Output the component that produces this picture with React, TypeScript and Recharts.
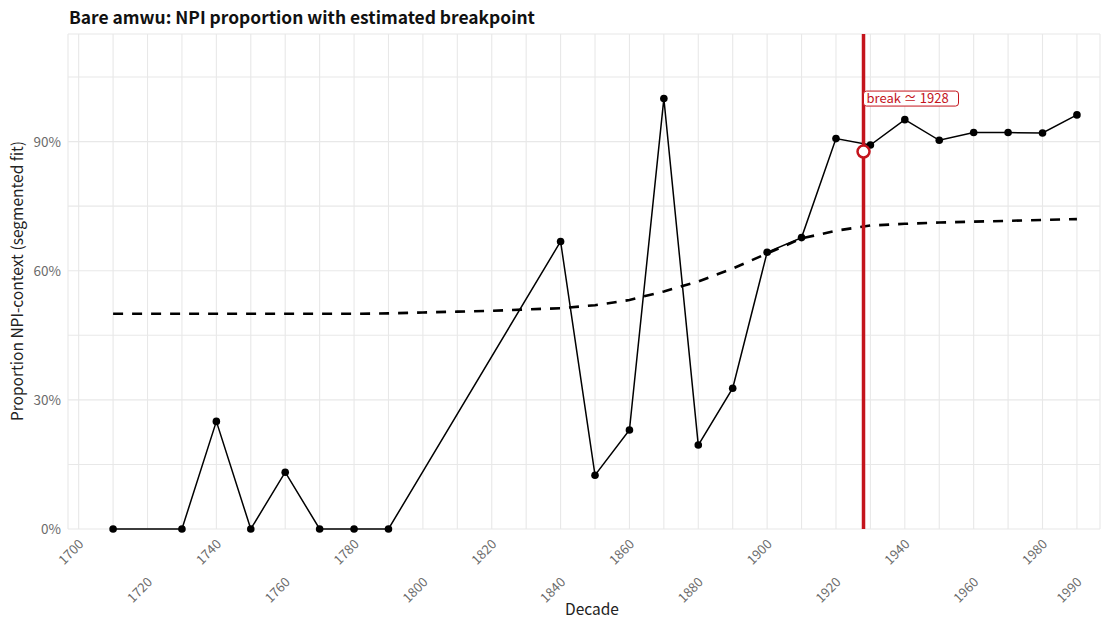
import React from 'react';
import {
	ComposedChart,
	Line,
	XAxis,
	YAxis,
	CartesianGrid,
	ReferenceLine,
	ReferenceDot,
} from 'recharts';

// observed decades (grid) and the labelled ones on the x axis
const decades = [
	1710, 1720, 1730, 1740, 1750, 1760, 1770, 1780, 1790, 1800, 1810, 1820, 1830, 1840, 1850,
	1860, 1870, 1880, 1890, 1900, 1910, 1920, 1930, 1940, 1950, 1960, 1970, 1980, 1990,
];
const gridDecades = [
	1700, 1710, 1720, 1730, 1740, 1750, 1760, 1770, 1780, 1790, 1800, 1810, 1820, 1830, 1840,
	1850, 1860, 1870, 1880, 1890, 1900, 1910, 1920, 1930, 1940, 1950, 1960, 1970, 1980, 1990,
];
const xLabels = [
	1700, 1720, 1740, 1760, 1780, 1800, 1820, 1840, 1860, 1880, 1900, 1920, 1940, 1960, 1980, 1990,
];

// NPI-context share per decade (null = no tokens)
const npiShare = [
	0, null, 0, 0.25, 0, 0.132, 0, 0, 0, null, null, null, null, 0.668, 0.125, 0.23, 1.0, 0.195,
	0.327, 0.643, 0.677, 0.907, 0.892, 0.951, 0.903, 0.921, 0.921, 0.92, 0.962,
];
// segmented fit
const fitShare = [
	0.5, 0.5, 0.5, 0.5, 0.5, 0.5, 0.5, 0.5, 0.501, 0.503, 0.505, 0.507, 0.51, 0.513, 0.52, 0.532,
	0.552, 0.575, 0.605, 0.64, 0.675, 0.693, 0.705, 0.709, 0.712, 0.714, 0.716, 0.718, 0.72,
];

const yTicks = [0, 0.15, 0.3, 0.45, 0.6, 0.75, 0.9, 1.05];
const yLabels = [0, 0.3, 0.6, 0.9];

const breakYear = 1928;
const breakShare = 0.877;
const breakLabelShare = 1.0;

const RED = '#c4141c';
const FONT = '"Noto Sans CJK KR", "Noto Sans", sans-serif';

const data = decades.map((d, i) => ({ decade: d, npi: npiShare[i], fit: fitShare[i] }));

const XTick = (props: any) => {
	const { x, y, payload } = props;
	const idx = xLabels.indexOf(payload.value);
	if (idx < 0) return null;
	const px = x + 5.7;
	const py = y + (idx % 2 === 0 ? 16 : 54);
	return (
		<text
			x={px}
			y={py}
			transform={`rotate(-45, ${px}, ${py})`}
			textAnchor='end'
			fontSize={13}
			fill='#6b6b6b'
			fontFamily={FONT}
		>
			{payload.value}
		</text>
	);
};

const YTick = (props: any) => {
	const { x, y, payload } = props;
	if (!yLabels.some(v => Math.abs(v - payload.value) < 1e-9)) return null;
	return (
		<text x={x} y={y + 5} textAnchor='end' fontSize={13.5} fill='#6b6b6b' fontFamily={FONT}>
			{`${Math.round(payload.value * 100)}%`}
		</text>
	);
};

const BreakLabel = (props: any) => {
	const { cx, cy } = props;
	return (
		<g>
			<rect
				x={cx}
				y={cy - 7.5}
				width={95}
				height={15}
				rx={3}
				fill='#fff'
				stroke={RED}
				strokeWidth={1}
			/>
			<text x={cx + 3} y={cy + 4.5} fontSize={13} fill={RED} fontFamily={FONT}>
				{`break ≃ ${breakYear}`}
			</text>
		</g>
	);
};

export default function App() {
	return (
		<div style={{ position: 'absolute', left: 0, top: 0, width: 1107, height: 621, background: '#fff' }}>
			<ComposedChart
				width={1107}
				height={621}
				data={data}
				margin={{ top: 34, right: 7, bottom: 12, left: 8 }}
			>
				<text x={69} y={24} fontSize={17.4} fontWeight={700} fill='#111' fontFamily={FONT}>
					Bare amwu: NPI proportion with estimated breakpoint
				</text>
				<text x={592} y={615} textAnchor='middle' fontSize={15.5} fill='#222' fontFamily={FONT}>
					Decade
				</text>
				<text
					x={23}
					y={281}
					transform='rotate(-90, 23, 281)'
					textAnchor='middle'
					fontSize={15.5}
					fill='#222'
					fontFamily={FONT}
				>
					Proportion NPI-context (segmented fit)
				</text>
				<CartesianGrid stroke='#e8e8e8' strokeWidth={1.1} />
				<XAxis
					dataKey='decade'
					type='number'
					domain={[1696.9, 1996.7]}
					ticks={gridDecades}
					interval={0}
					axisLine={false}
					tickLine={false}
					tickSize={0}
					tickMargin={0}
					height={80}
					tick={<XTick />}
				/>
				<YAxis
					type='number'
					domain={[0, 1.15]}
					ticks={yTicks}
					interval={0}
					axisLine={false}
					tickLine={false}
					tickSize={0}
					tickMargin={7}
					width={60}
					tick={<YTick />}
				/>
				<Line
					dataKey='fit'
					stroke='#000'
					strokeWidth={2.6}
					strokeDasharray='10 9'
					dot={false}
					isAnimationActive={false}
				/>
				<Line
					dataKey='npi'
					stroke='#000'
					strokeWidth={1.5}
					connectNulls
					dot={{ r: 3.8, fill: '#000', stroke: 'none' }}
					activeDot={false}
					isAnimationActive={false}
				/>
				<ReferenceLine x={breakYear} stroke={RED} strokeWidth={3.5} />
				<ReferenceDot
					x={breakYear}
					y={breakShare}
					r={6}
					fill='#fff'
					stroke={RED}
					strokeWidth={2.5}
				/>
				<ReferenceDot x={breakYear} y={breakLabelShare} shape={<BreakLabel />} />
			</ComposedChart>
		</div>
	);
}
